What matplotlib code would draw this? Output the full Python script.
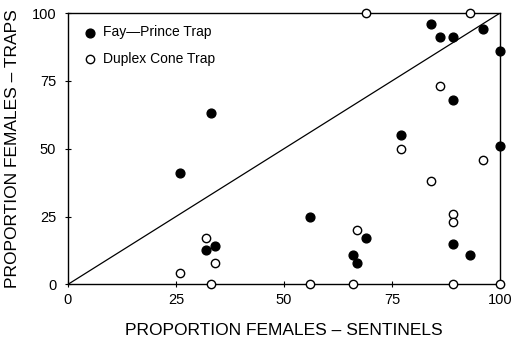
import matplotlib
matplotlib.use("Agg")
import matplotlib.pyplot as plt

# Fay-Prince trap (filled)
fp_x = [26, 33, 32, 34, 56, 66, 67, 69, 77, 84, 86, 89, 89, 89, 93, 96, 100, 100]
fp_y = [41, 63, 12.5, 14, 25, 11, 8, 17, 55, 96, 91, 91, 68, 15, 11, 94, 86, 51]
# Duplex cone trap (open)
dc_x = [26, 32, 33, 34, 56, 66, 67, 69, 77, 84, 86, 89, 89, 89, 93, 96, 100]
dc_y = [4, 17, 0, 8, 0, 0, 20, 100, 50, 38, 73, 26, 23, 0, 100, 46, 0]

ticks = [0, 25, 50, 75, 100]

plt.rcParams["font.family"] = ["Liberation Sans", "DejaVu Sans"]
fig = plt.figure(figsize=(5.15, 3.43), dpi=100)
ax = fig.add_axes([0.132, 0.171, 0.839, 0.791])

ax.plot([0, 100], [0, 100], color="black", lw=0.9)
ax.scatter(fp_x, fp_y, s=40, color="black", clip_on=False, zorder=3, label="Fay\u2014Prince Trap")
ax.scatter(dc_x, dc_y, s=36, facecolor="white", edgecolor="black", linewidth=1.0,
           clip_on=False, zorder=3, label="Duplex Cone Trap")

ax.set_xlim(0, 100); ax.set_ylim(0, 100)
ax.set_xticks(ticks); ax.set_yticks(ticks)
ax.tick_params(direction="inout", length=5, width=0.8, labelsize=10.5)
ax.tick_params(axis="y", pad=6)
for s in ax.spines.values():
    s.set_linewidth(1.0)
ax.set_xlabel("PROPORTION FEMALES \u2013 SENTINELS", fontsize=12.5, labelpad=12)
ax.set_ylabel("PROPORTION FEMALES \u2013 TRAPS", fontsize=12.5, labelpad=8)
ax.legend(loc="upper left", bbox_to_anchor=(0.021, 0.975), frameon=False, fontsize=10,
          handlelength=1.0, handletextpad=0.5, borderaxespad=0, labelspacing=0.9)

fig.savefig("out.png", dpi=100)
